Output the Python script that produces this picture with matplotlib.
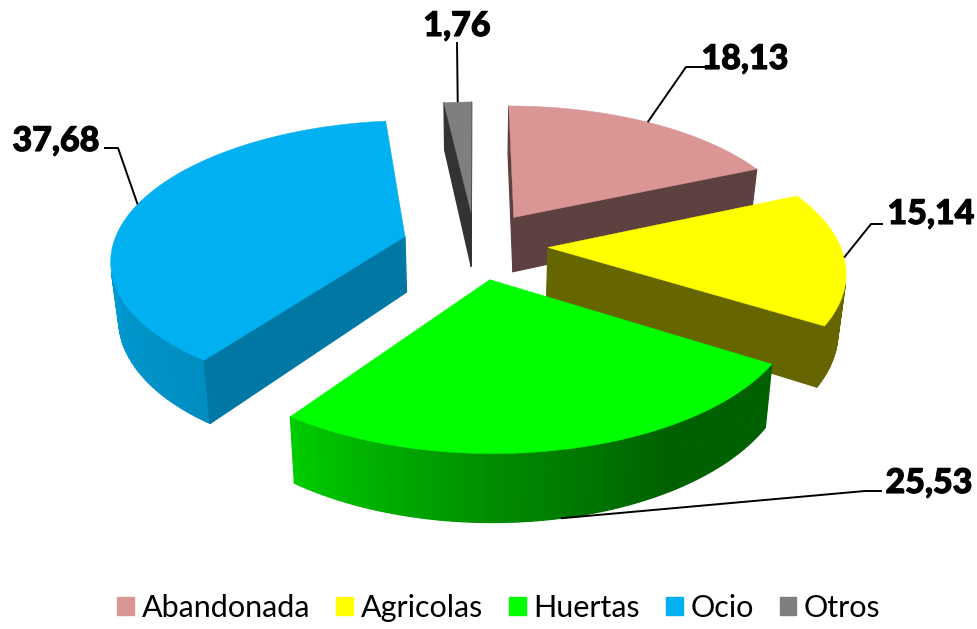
import numpy as np
import matplotlib
matplotlib.use("Agg")
import matplotlib.pyplot as plt
import matplotlib.patheffects as pe
from matplotlib.collections import PolyCollection
from matplotlib.patches import Patch

plt.rcParams['font.family'] = ['Lato', 'DejaVu Sans']

categories = ['Abandonada', 'Agricolas', 'Huertas', 'Ocio', 'Otros']
values = [18.13, 15.14, 25.53, 37.68, 1.76]
colors = ['#D99694', '#FFFF00', '#00FF00', '#00B0F0', '#7F7F7F']
cut_shade = [0.43, 0.40, 0.40, 0.68, 0.40]

# label centres and leader elbows, in pixels
label_pos = [(745, 59), (931, 214), (929, 483), (56, 141), (457, 26)]
elbows = [[(705, 67), (686, 67)], [(883, 224), (871, 224)], [(882, 491), (865, 491)],
          [(104, 148), (118, 148)], [(457, 42)]]
draw_order = [4, 0, 3, 1, 2]

# fake 3d view
cx, cy = 475, 245
R = 292
qR = 136
k = 0.151
explode = 0.25
h = 56
vanish = 0.978


def project(X, Y, down=False):
    s = 1 / (1 + k * Y)
    x = cx + R * X * s
    y = cy - qR * Y * s
    if down:
        x = cx + (x - cx) * vanish
        y = y + h * s
    return x, y


def shade(rgb, f):
    return tuple(c * f for c in rgb)


def wall_shade(a):
    # lighter toward the left of the pie
    return np.interp(a, [0, 150, 180, 215, 270, 360], [0.38, 0.38, 0.55, 0.80, 0.90, 0.90])


def quad(p, q):
    return [project(*p), project(*q), project(*q, down=True), project(*p, down=True)]


def area(poly):
    pts = np.array(poly)
    x, y = pts[:, 0], pts[:, 1]
    return np.sum(x * np.roll(y, -1) - np.roll(x, -1) * y)


fig = plt.figure(figsize=(9.78, 6.29), dpi=100)
ax = fig.add_axes([0, 0, 1, 1])
ax.set_xlim(0, 978)
ax.set_ylim(629, 0)
ax.axis('off')

edges = np.concatenate([[0], np.cumsum(values)]) / np.sum(values) * 360
mids = (edges[:-1] + edges[1:]) / 2


def rim(a, m):
    ra, rm = np.radians(a), np.radians(m)
    return (np.sin(ra) + explode * np.sin(rm), np.cos(ra) + explode * np.cos(rm))


for z, i in enumerate(draw_order):
    a1, a2, m = edges[i], edges[i + 1], mids[i]
    rgb = matplotlib.colors.to_rgb(colors[i])
    rm = np.radians(m)
    apex = (explode * np.sin(rm), explode * np.cos(rm))
    angles = np.linspace(a1, a2, int(a2 - a1) + 2)
    arc = [rim(a, m) for a in angles]

    polys, cols = [], []
    for j in range(len(arc) - 1):
        poly = quad(arc[j], arc[j + 1])
        if area(poly) < 0:
            polys.append(poly)
            f = cut_shade[i] if i in (0, 1) else wall_shade((angles[j] + angles[j + 1]) / 2)
            cols.append(shade(rgb, f))
    for p, q in [(apex, arc[0]), (arc[-1], apex)]:
        poly = quad(p, q)
        if area(poly) < 0:
            polys.append(poly)
            cols.append(shade(rgb, cut_shade[i]))
    if polys:
        ax.add_collection(PolyCollection(polys, facecolors=cols, edgecolors=cols,
                                         linewidths=0.9, zorder=z * 2 + 1))
    top = [project(*apex)] + [project(*p) for p in arc]
    ax.fill(*zip(*top), color=colors[i], lw=0.3, zorder=z * 2 + 2)

# value labels with leader lines
for i, v in enumerate(values):
    m = mids[i]
    # Huertas leader lands on the bottom of the wall
    anchor = project(*rim(m, m), down=(i == 2))
    pts = elbows[i] + [anchor]
    ax.plot(*zip(*pts), color='black', lw=1.4, zorder=20, solid_capstyle='butt')
    t = ax.text(label_pos[i][0], label_pos[i][1], f'{v:.2f}'.replace('.', ','),
                fontsize=24.5, fontweight='black', ha='center', va='center', zorder=21)
    t.set_path_effects([pe.withStroke(linewidth=0.8, foreground='black')])

handles = [Patch(color=c, label=n) for c, n in zip(colors, categories)]
leg = ax.legend(handles=handles, ncol=5, loc='lower center', bbox_to_anchor=(499 / 978, -0.032),
                frameon=False, fontsize=22, handlelength=0.55, handleheight=0.55,
                handletextpad=0.25, columnspacing=0.85)

fig.savefig('out.png', dpi=100)
